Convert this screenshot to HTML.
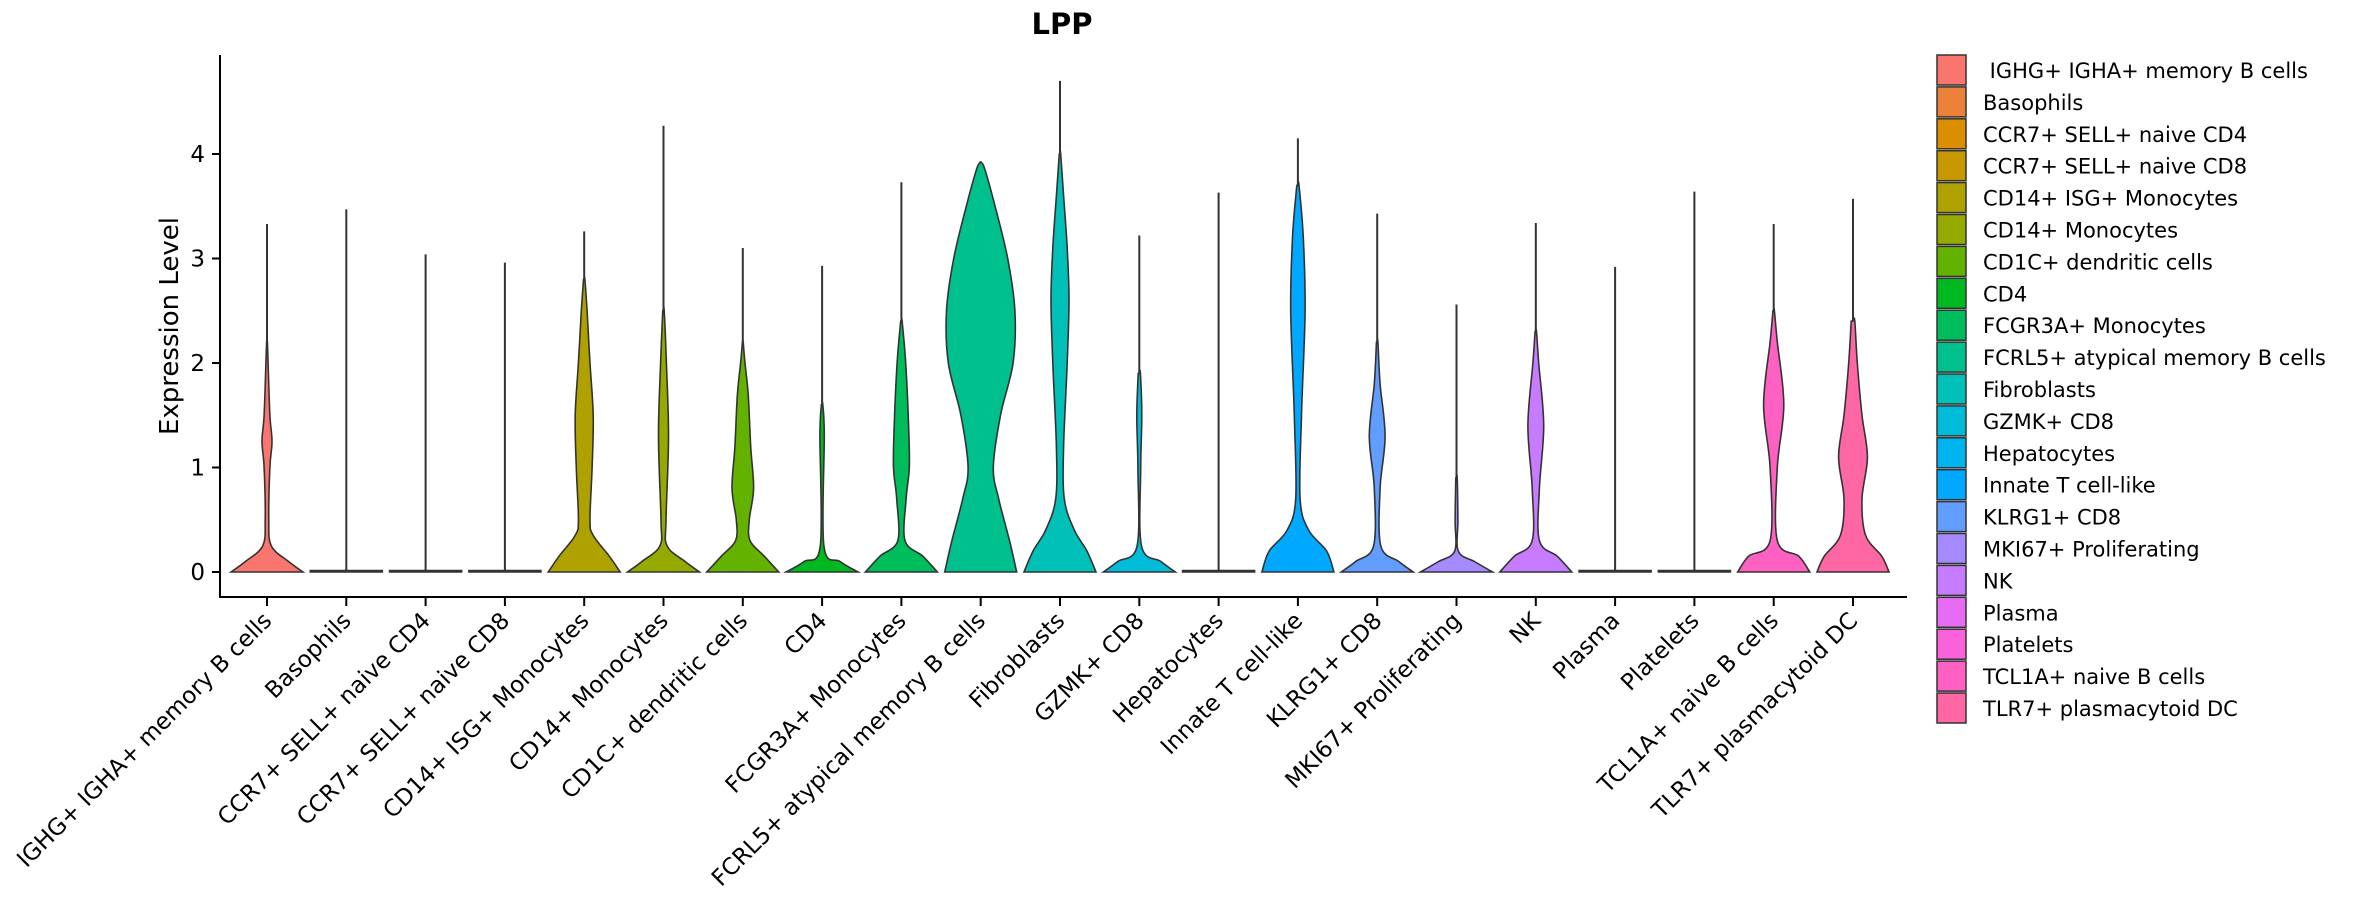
<!DOCTYPE html>
<html><head><meta charset="utf-8"><style>
body{margin:0;background:#fff;}
svg{display:block;font-family:"DejaVu Sans","Liberation Sans",sans-serif;}
</style></head><body>
<svg id="chart" width="2362" height="900" viewBox="0 0 2362 900">
<text x="1062" y="34" text-anchor="middle" font-size="29" font-weight="bold">LPP</text>
<text transform="translate(178,326) rotate(-90)" text-anchor="middle" font-size="26">Expression Level</text>
<g id="plot"></g>
<g id="legend"></g>
</svg>
<script>
const categories = ["IGHG+ IGHA+ memory B cells","Basophils","CCR7+ SELL+ naive CD4","CCR7+ SELL+ naive CD8","CD14+ ISG+ Monocytes","CD14+ Monocytes","CD1C+ dendritic cells","CD4","FCGR3A+ Monocytes","FCRL5+ atypical memory B cells","Fibroblasts","GZMK+ CD8","Hepatocytes","Innate T cell-like","KLRG1+ CD8","MKI67+ Proliferating","NK","Plasma","Platelets","TCL1A+ naive B cells","TLR7+ plasmacytoid DC"];
const legendLabels = [" IGHG+ IGHA+ memory B cells"].concat(categories.slice(1));
const colors = ["#F8766D","#EC8239","#DB8E00","#C79800","#AFA100","#94AA00","#64B200","#00B81F","#00BD5C","#00C08D","#00C0B8","#00BCD8","#00B4EF","#00A9FF","#619CFF","#A58AFF","#C77CFF","#E76BF3","#FA62DB","#FF61C3","#FF67A4"];
const maxValues = [3.33,3.47,3.04,2.96,3.26,4.27,3.1,2.93,3.73,3.92,4.7,3.22,3.63,4.15,3.43,2.56,3.34,2.92,3.64,3.33,3.57];
const densityY = [
[0,0.1,0.25,0.5,1.0,1.25,1.5,2.0,2.2],
[0,0.015],[0,0.015],[0,0.015],
[0,0.15,0.35,0.5,1.0,1.5,2.0,2.5,2.8],
[0,0.1,0.25,0.5,1.3,2.0,2.5],
[0,0.15,0.3,0.5,0.8,1.2,1.7,2.0,2.2],
[0,0.1,0.25,1.3,1.6],
[0,0.15,0.3,0.7,1.0,1.4,2.0,2.4],
[0,0.3,0.7,1.0,1.5,2.0,2.5,3.0,3.5,3.85,3.92],
[0,0.2,0.4,0.7,1.2,2.0,2.6,3.1,3.6,4.0],
[0,0.1,0.25,1.0,1.5,1.9],
[0,0.015],
[0,0.2,0.4,0.7,1.5,2.5,3.2,3.7],
[0,0.1,0.25,0.8,1.3,1.8,2.2],
[0,0.1,0.2,0.5,0.9],
[0,0.15,0.3,0.8,1.4,2.0,2.3],
[0,0.015],[0,0.015],
[0,0.15,0.3,1.0,1.6,2.2,2.5],
[0,0.15,0.35,0.7,1.1,1.5,2.0,2.4]];
const densityW = [
[1,0.6,0.12,0.05,0.08,0.14,0.08,0.03,0.01],
[1,1],[1,1],[1,1],
[1,0.7,0.25,0.16,0.22,0.25,0.16,0.08,0.02],
[1,0.6,0.1,0.07,0.14,0.08,0.02],
[1,0.6,0.2,0.18,0.3,0.22,0.15,0.06,0.01],
[1,0.5,0.05,0.06,0.02],
[1,0.6,0.1,0.13,0.22,0.2,0.12,0.02],
[1,0.8,0.5,0.35,0.55,0.9,0.95,0.75,0.4,0.12,0.02],
[1,0.75,0.4,0.12,0.1,0.2,0.25,0.2,0.1,0.02],
[1,0.6,0.06,0.04,0.07,0.03],
[1,1],
[1,0.8,0.3,0.06,0.1,0.2,0.15,0.03],
[1,0.6,0.1,0.08,0.22,0.08,0.02],
[1,0.5,0.05,0.04,0.02],
[1,0.6,0.1,0.1,0.22,0.08,0.02],
[1,1],[1,1],
[1,0.7,0.1,0.1,0.28,0.1,0.02],
[1,0.8,0.35,0.25,0.4,0.25,0.12,0.05]];
const yTicks = [0,1,2,3,4];

const NS="http://www.w3.org/2000/svg";
const plot=document.getElementById('plot');
const X0=267, DX=79.3, Y0=572, PU=104.5, HW=36;
const xs=i=>X0+i*DX, ys=v=>Y0-v*PU;
function mk(t,a,p){const e=document.createElementNS(NS,t);for(const k in a)e.setAttribute(k,a[k]);(p||plot).appendChild(e);return e;}
function smooth(pts){let d="M"+pts[0][0]+","+pts[0][1];for(let i=0;i<pts.length-1;i++){const p0=pts[Math.max(0,i-1)],p1=pts[i],p2=pts[i+1],p3=pts[Math.min(pts.length-1,i+2)];
const c1=[p1[0]+(p2[0]-p0[0])/6,p1[1]+(p2[1]-p0[1])/6],c2=[p2[0]-(p3[0]-p1[0])/6,p2[1]-(p3[1]-p1[1])/6];
d+=" C"+c1[0].toFixed(1)+","+c1[1].toFixed(1)+" "+c2[0].toFixed(1)+","+c2[1].toFixed(1)+" "+p2[0].toFixed(1)+","+p2[1].toFixed(1);}return d;}
categories.forEach((c,i)=>{
  const cx=xs(i);
  const ln=mk('line',{x1:cx,x2:cx,y1:ys(0),y2:ys(maxValues[i]),stroke:'#333','stroke-width':2});
  
  
  const Y=densityY[i],W=densityW[i];
  const right=Y.map((v,k)=>[cx+W[k]*HW,ys(v)]);
  const left=Y.map((v,k)=>[cx-W[k]*HW,ys(v)]).reverse();
  const top=[cx,ys(Y[Y.length-1])];
  const sl=smooth(left);
  let d=smooth(right.concat([top]))+" L"+left[0][0]+","+left[0][1]+sl.slice(sl.indexOf(' C'))+" Z";
  if(Y.length===2){d="M"+(cx-HW)+","+ys(0)+" L"+(cx+HW)+","+ys(0)+" L"+(cx+HW)+","+(ys(0)-1.5)+" L"+(cx-HW)+","+(ys(0)-1.5)+" Z";}
  const p=mk('path',{d:d,fill:colors[i],stroke:'#333','stroke-width':1.6});
  
  
  const tk=mk('line',{x1:cx,x2:cx,y1:597,y2:606,stroke:'#000','stroke-width':2});
  
  
  const t=mk('text',{transform:`translate(${cx+6},${622}) rotate(-45)`,'text-anchor':'end','font-size':23});
  t.textContent=c;
  
  
});
yTicks.forEach(v=>{
  const tk=mk('line',{x1:212,x2:220,y1:ys(v),y2:ys(v),stroke:'#000','stroke-width':2});
  
  
  const t=mk('text',{x:205,y:ys(v)+8,'text-anchor':'end','font-size':23});
  t.textContent=v;
  
  
});
const ya=mk('line',{x1:220,x2:220,y1:55,y2:598,stroke:'#000','stroke-width':2});


const xa=mk('line',{x1:219,x2:1907,y1:597,y2:597,stroke:'#000','stroke-width':2});


const lg=document.getElementById('legend');
legendLabels.forEach((l,i)=>{
  const y=55+i*31.9;
  const r=mk('rect',{x:1937,y:y,width:29,height:30,fill:colors[i],stroke:'#333','stroke-width':1.5},lg);
  
  
  const t=mk('text',{x:1983,y:y+23,'font-size':21},lg);
  t.textContent=l;
  t.style.whiteSpace='pre';
  
  
});
</script>
</body></html>
